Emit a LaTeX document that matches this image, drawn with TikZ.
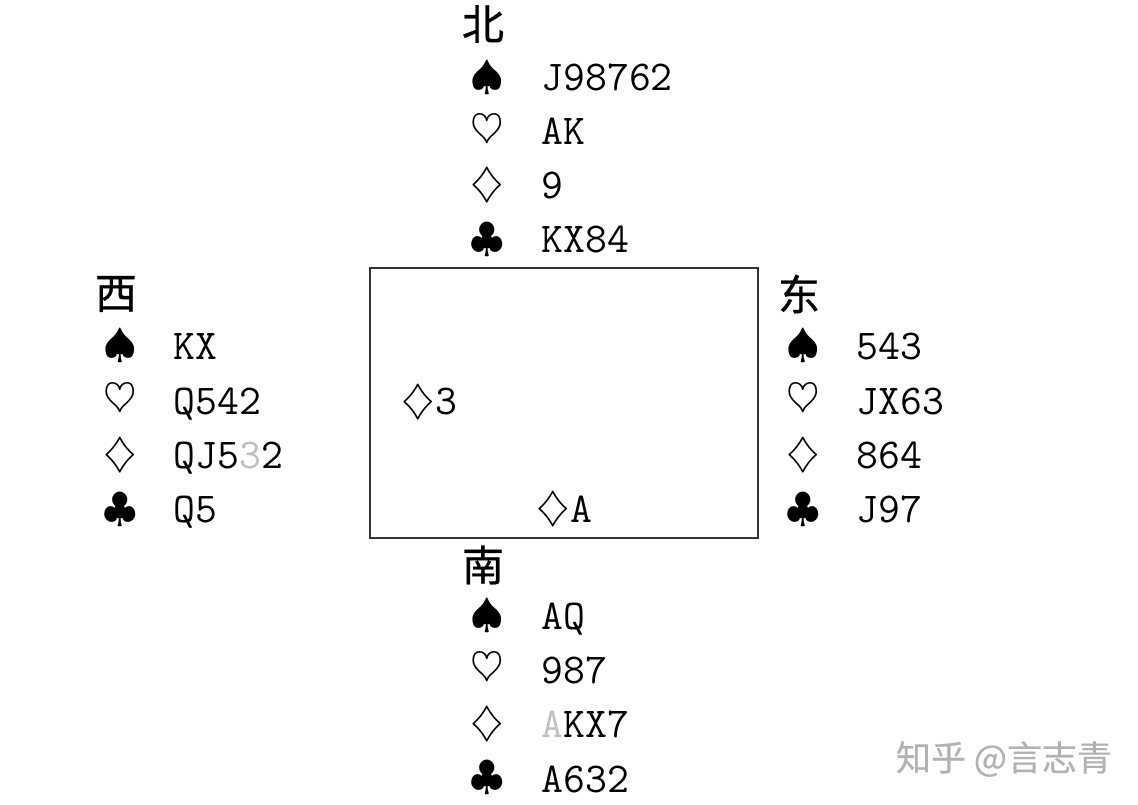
\documentclass[tikz,border=0pt]{standalone}
\usepackage{fontspec}
\newfontfamily\cjk{Noto Sans CJK SC}
\tikzset{
  suit/.style={inner sep=0pt,xscale=4.3,yscale=4.05},
  cards/.style={anchor=base west,inner sep=0pt,font=\fontsize{42.5}{42.5}\selectfont\ttfamily\addfontfeature{FakeBold=0.5}},
  seat/.style={inner sep=0pt,font=\fontsize{42}{42}\selectfont\cjk\addfontfeature{FakeBold=0.8}},
  watermark/.style={inner sep=0pt,text=black!30,font=\fontsize{35}{35}\selectfont\cjk\addfontfeature{FakeBold=0.4}}
}
\colorlet{played}{black!25}
\begin{document}
\begin{tikzpicture}[x=1pt,y=-1pt,line width=1.2pt]
  \useasboundingbox (0,0) rectangle (1138,804);

  % 牌桌
  \draw[black!80] (370,268) rectangle (758,538);

  % 北家
  \node[seat] (N) at (483,24) {北};
  \node[suit] (NS) at (487,78) {$\spadesuit$};
  \node[suit] (NH) at (487,131) {$\heartsuit$};
  \node[suit] (ND) at (487,185) {$\diamondsuit$};
  \node[suit] (NC) at (487,240) {$\clubsuit$};
  \node[cards] (Ns) at (541,90) {J98762};
  \node[cards] (Nh) at (541,144) {AK};
  \node[cards] (Nd) at (541,198) {9};
  \node[cards] (Nc) at (541,252) {KX84};

  % 西家
  \node[seat] (W) at (116,294) {西};
  \node[suit] (WS) at (120,346) {$\spadesuit$};
  \node[suit] (WH) at (120,400) {$\heartsuit$};
  \node[suit] (WD) at (120,455) {$\diamondsuit$};
  \node[suit] (WC) at (120,510) {$\clubsuit$};
  \node[cards] (Ws) at (173,359) {KX};
  \node[cards] (Wh) at (173,414) {Q542};
  \node[cards] (Wd) at (173,468) {QJ5\textcolor{played}{3}2};
  \node[cards] (Wc) at (173,522) {Q5};

  % 东家
  \node[seat] (E) at (799,294) {东};
  \node[suit] (ES) at (803,346) {$\spadesuit$};
  \node[suit] (EH) at (803,400) {$\heartsuit$};
  \node[suit] (ED) at (803,455) {$\diamondsuit$};
  \node[suit] (EC) at (803,510) {$\clubsuit$};
  \node[cards] (Es) at (856,359) {543};
  \node[cards] (Eh) at (856,414) {JX63};
  \node[cards] (Ed) at (856,468) {864};
  \node[cards] (Ec) at (856,522) {J97};

  % 南家
  \node[seat] (S) at (483,565) {南};
  \node[suit] (SS) at (487,616) {$\spadesuit$};
  \node[suit] (SH) at (487,669) {$\heartsuit$};
  \node[suit] (SD) at (487,724) {$\diamondsuit$};
  \node[suit] (SC) at (487,778) {$\clubsuit$};
  \node[cards] (Ss) at (541,629) {AQ};
  \node[cards] (Sh) at (541,683) {987};
  \node[cards] (Sd) at (541,737) {\textcolor{played}{A}KX7};
  \node[cards] (Sc) at (541,792) {A632};

  % 桌上的牌
  \node[suit] (TW) at (418,402) {$\diamondsuit$};
  \node[cards] (Tw) at (435,414) {3};
  \node[suit] (TS) at (553,509) {$\diamondsuit$};
  \node[cards] (Ts) at (570,522) {A};

  % 水印
  \node[watermark] (Z) at (1004,759) {知乎 @言志青};
\end{tikzpicture}
\end{document}
